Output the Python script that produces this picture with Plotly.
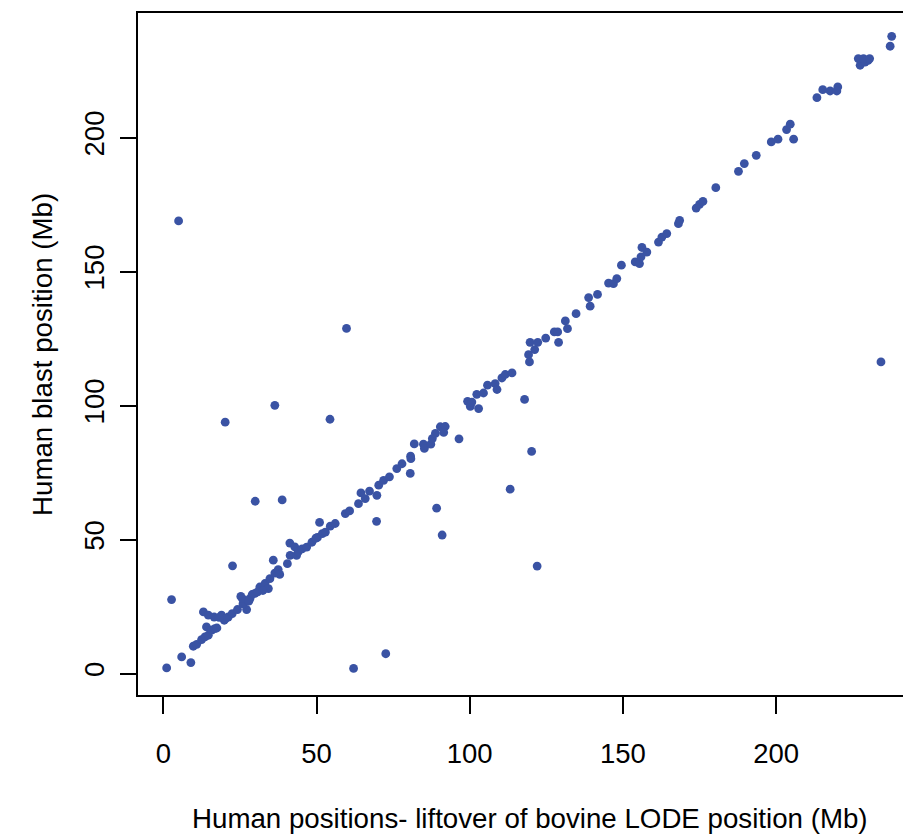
import plotly.graph_objects as go

# Human positions (liftover of bovine LODE position), Mb
x_vals = [
    5.0, 2.7, 1.1, 6.0, 9.0, 20.2, 22.6, 30.0, 36.4, 38.8, 59.8, 54.4, 62.1, 72.6,
    69.6, 89.2, 91.0, 96.5, 113.2, 117.9, 120.2, 122.0, 234.2,
    9.8, 10.9, 12.5, 13.6, 14.7, 14.1, 15.8, 16.8, 13.1, 14.7, 16.6, 19.0, 19.9,
    21.2, 22.5, 24.2, 25.3, 26.6, 27.2, 28.3, 29.9, 31.5, 33.2, 34.3, 34.8, 36.4,
    37.5, 38.0, 35.9, 40.5, 41.4, 43.5, 41.3, 42.9, 44.0, 45.3, 46.8, 50.3, 51.9,
    52.9, 51.0, 54.5, 56.1, 59.4, 60.8, 63.7, 64.5, 65.9, 67.3, 69.7, 70.3, 71.9,
    73.8, 76.2, 77.9, 80.6, 80.7, 80.8, 81.9, 84.9, 85.2, 87.3, 87.8, 88.8, 90.4,
    92.0, 91.5, 20.3, 26.0, 29.0, 48.5, 49.8,
    99.3, 100.2, 100.7, 102.9, 102.3, 104.5, 105.8, 108.3, 108.9, 110.5, 111.6,
    113.8, 119.2, 119.5, 119.7, 121.2, 122.2, 124.8, 127.6, 128.7, 129.0, 131.2,
    131.9, 134.7, 138.8, 139.3, 141.7, 145.3, 146.9, 148.0, 149.5, 154.0, 155.4,
    155.9, 156.2, 157.8, 161.6, 162.7, 164.3, 168.1, 168.5, 173.9, 175.0, 176.1,
    180.3, 187.7, 189.6, 193.5, 198.4, 200.6, 203.4, 204.6, 205.7, 213.3, 215.2,
    217.6, 220.1, 219.8, 227.4, 229.0, 230.0, 226.8, 228.5, 230.5, 237.7, 237.2,
    25.8, 27.9, 30.8, 32.5, 17.5, 18.2,
]
# Human blast position, Mb
y_vals = [
    168.9, 27.6, 2.1, 6.2, 4.1, 93.8, 40.2, 64.3, 100.1, 64.8, 128.8, 94.9, 1.9, 7.4,
    56.8, 61.7, 51.7, 87.6, 68.8, 102.3, 82.9, 40.1, 116.3,
    10.2, 10.9, 12.7, 13.7, 14.3, 17.4, 16.2, 16.8, 23.0, 21.8, 21.1, 21.8, 19.9,
    21.1, 22.4, 23.9, 28.8, 27.3, 23.9, 28.0, 29.9, 32.3, 33.6, 31.7, 35.4, 37.5,
    38.8, 37.0, 42.3, 41.0, 44.1, 44.1, 48.7, 47.3, 45.4, 46.5, 47.2, 50.8, 52.2,
    52.8, 56.4, 55.0, 56.0, 59.7, 60.7, 63.4, 67.4, 65.3, 68.1, 66.5, 70.3, 72.1,
    73.4, 76.5, 78.3, 74.7, 81.1, 80.2, 85.7, 85.6, 84.0, 85.6, 87.7, 89.6, 92.1,
    92.2, 90.0, 20.5, 26.0, 29.5, 49.0, 50.5,
    101.6, 99.7, 101.3, 98.9, 104.2, 104.7, 107.6, 108.2, 106.0, 110.3, 111.6,
    112.2, 119.0, 116.3, 123.6, 120.9, 123.6, 125.2, 127.5, 127.5, 123.6, 131.6,
    128.7, 134.3, 140.3, 137.1, 141.5, 145.7, 145.5, 147.4, 152.4, 153.6, 153.0,
    155.5, 159.0, 157.3, 161.0, 162.9, 164.2, 167.9, 169.1, 173.7, 175.1, 176.2,
    181.3, 187.4, 190.3, 193.4, 198.4, 199.4, 203.0, 205.0, 199.4, 214.9, 217.9,
    217.4, 218.9, 217.4, 227.0, 228.2, 228.8, 229.5, 229.5, 229.5, 237.8, 234.1,
    28.0, 27.0, 30.5, 31.0, 17.0, 21.0,
]

x_ticks = [0, 50, 100, 150, 200]
y_ticks = [0, 50, 100, 150, 200]

FONT = "Liberation Sans"
FS_TICK = 27.5
FS_TITLE = 27.7
COL = "#3A53A4"

fig = go.Figure()
fig.add_trace(go.Scatter(
    x=x_vals, y=y_vals, mode="markers",
    marker=dict(color=COL, size=8.8, line=dict(width=0)),
    showlegend=False, hoverinfo="skip",
))

axis_common = dict(
    showgrid=False, zeroline=False, showline=True, linecolor="black", linewidth=2,
    ticks="outside", tickcolor="black", tickwidth=2,
    tickfont=dict(family=FONT, size=FS_TICK, color="black"),
)

# page body has an 8px margin, so the figure is 8px smaller than the window
fig.update_layout(
    width=903, height=828,
    margin=dict(l=130, r=0, t=5, b=141),
    paper_bgcolor="white", plot_bgcolor="white",
    xaxis=dict(range=[-8.25, 244.0], tickvals=x_ticks, ticktext=[str(v) for v in x_ticks],
               ticklen=17, mirror=True, ticklabelstandoff=16, **axis_common),
    yaxis=dict(range=[-8.0, 246.5], tickvals=y_ticks, ticktext=[str(v) for v in y_ticks],
               ticklen=16, tickangle=-90, mirror=False, ticklabelstandoff=5, **axis_common),
    annotations=[
        dict(text="Human positions- liftover of bovine LODE position (Mb)",
             xref="paper", yref="paper", x=0.5066, y=-0.1818,
             xanchor="center", yanchor="middle", showarrow=False,
             font=dict(family=FONT, size=FS_TITLE, color="black")),
        dict(text="Human blast position (Mb)",
             xref="paper", yref="paper", x=-0.1242, y=0.5,
             xanchor="center", yanchor="middle", showarrow=False, textangle=-90,
             font=dict(family=FONT, size=FS_TITLE, color="black")),
    ],
)

fig.write_html("out.html")
